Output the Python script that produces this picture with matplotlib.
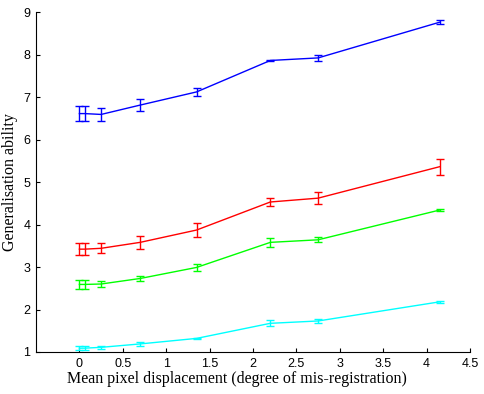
import matplotlib
matplotlib.use('Agg')
import matplotlib.pyplot as plt

# Mean pixel displacement (x) shared by all four curves
displacement = [0.0, 0.06, 0.25, 0.7, 1.35, 2.2, 2.75, 4.15]

# Generalisation ability (mean) and error for each curve
blue_mean = [6.61, 6.61, 6.59, 6.81, 7.12, 7.86, 7.92, 8.76]
blue_err = [0.18, 0.18, 0.16, 0.15, 0.10, 0.02, 0.07, 0.05]

red_mean = [3.42, 3.42, 3.44, 3.58, 3.87, 4.53, 4.62, 5.36]
red_err = [0.14, 0.14, 0.12, 0.145, 0.155, 0.10, 0.14, 0.19]

green_mean = [2.59, 2.59, 2.60, 2.73, 2.99, 3.58, 3.64, 4.34]
green_err = [0.10, 0.10, 0.08, 0.06, 0.075, 0.10, 0.06, 0.02]

cyan_mean = [1.09, 1.09, 1.11, 1.19, 1.32, 1.675, 1.73, 2.18]
cyan_err = [0.05, 0.05, 0.03, 0.05, 0.02, 0.07, 0.05, 0.02]

series = [
    (blue_mean, blue_err, '#0000ff'),
    (red_mean, red_err, '#ff0000'),
    (green_mean, green_err, '#00ff00'),
    (cyan_mean, cyan_err, '#00ffff'),
]

fig = plt.figure(figsize=(4.84, 3.94), dpi=100)
ax = fig.add_axes([0.0744, 0.1066, 0.8966, 0.8629])

for mean, err, colour in series:
    ax.errorbar(displacement, mean, yerr=err, color=colour, linewidth=1.0,
                elinewidth=1.0, capsize=3, capthick=1.0)

ax.set_xlim(-0.5, 4.5)
ax.set_ylim(1, 9)
ax.set_xticks([0, 0.5, 1, 1.5, 2, 2.5, 3, 3.5, 4, 4.5])
ax.set_xticklabels(['0', '0.5', '1', '1.5', '2', '2.5', '3', '3.5', '4', '4.5'])
ax.set_yticks(range(1, 10))

ax.spines['top'].set_visible(False)
ax.spines['right'].set_visible(False)
for s in ['left', 'bottom']:
    ax.spines[s].set_linewidth(0.8)
ax.tick_params(direction='in', length=3, width=0.8, labelsize=9, pad=4)
for lbl in ax.get_xticklabels() + ax.get_yticklabels():
    lbl.set_family('Liberation Sans')

ax.set_xlabel('Mean pixel displacement (degree of mis-registration)',
              family='Liberation Serif', fontsize=11.5, labelpad=1)
ax.xaxis.label.set_x(0.463)
ax.set_ylabel('Generalisation ability', family='Liberation Serif',
              fontsize=11.5, labelpad=4)

fig.savefig('out.png', dpi=100)
